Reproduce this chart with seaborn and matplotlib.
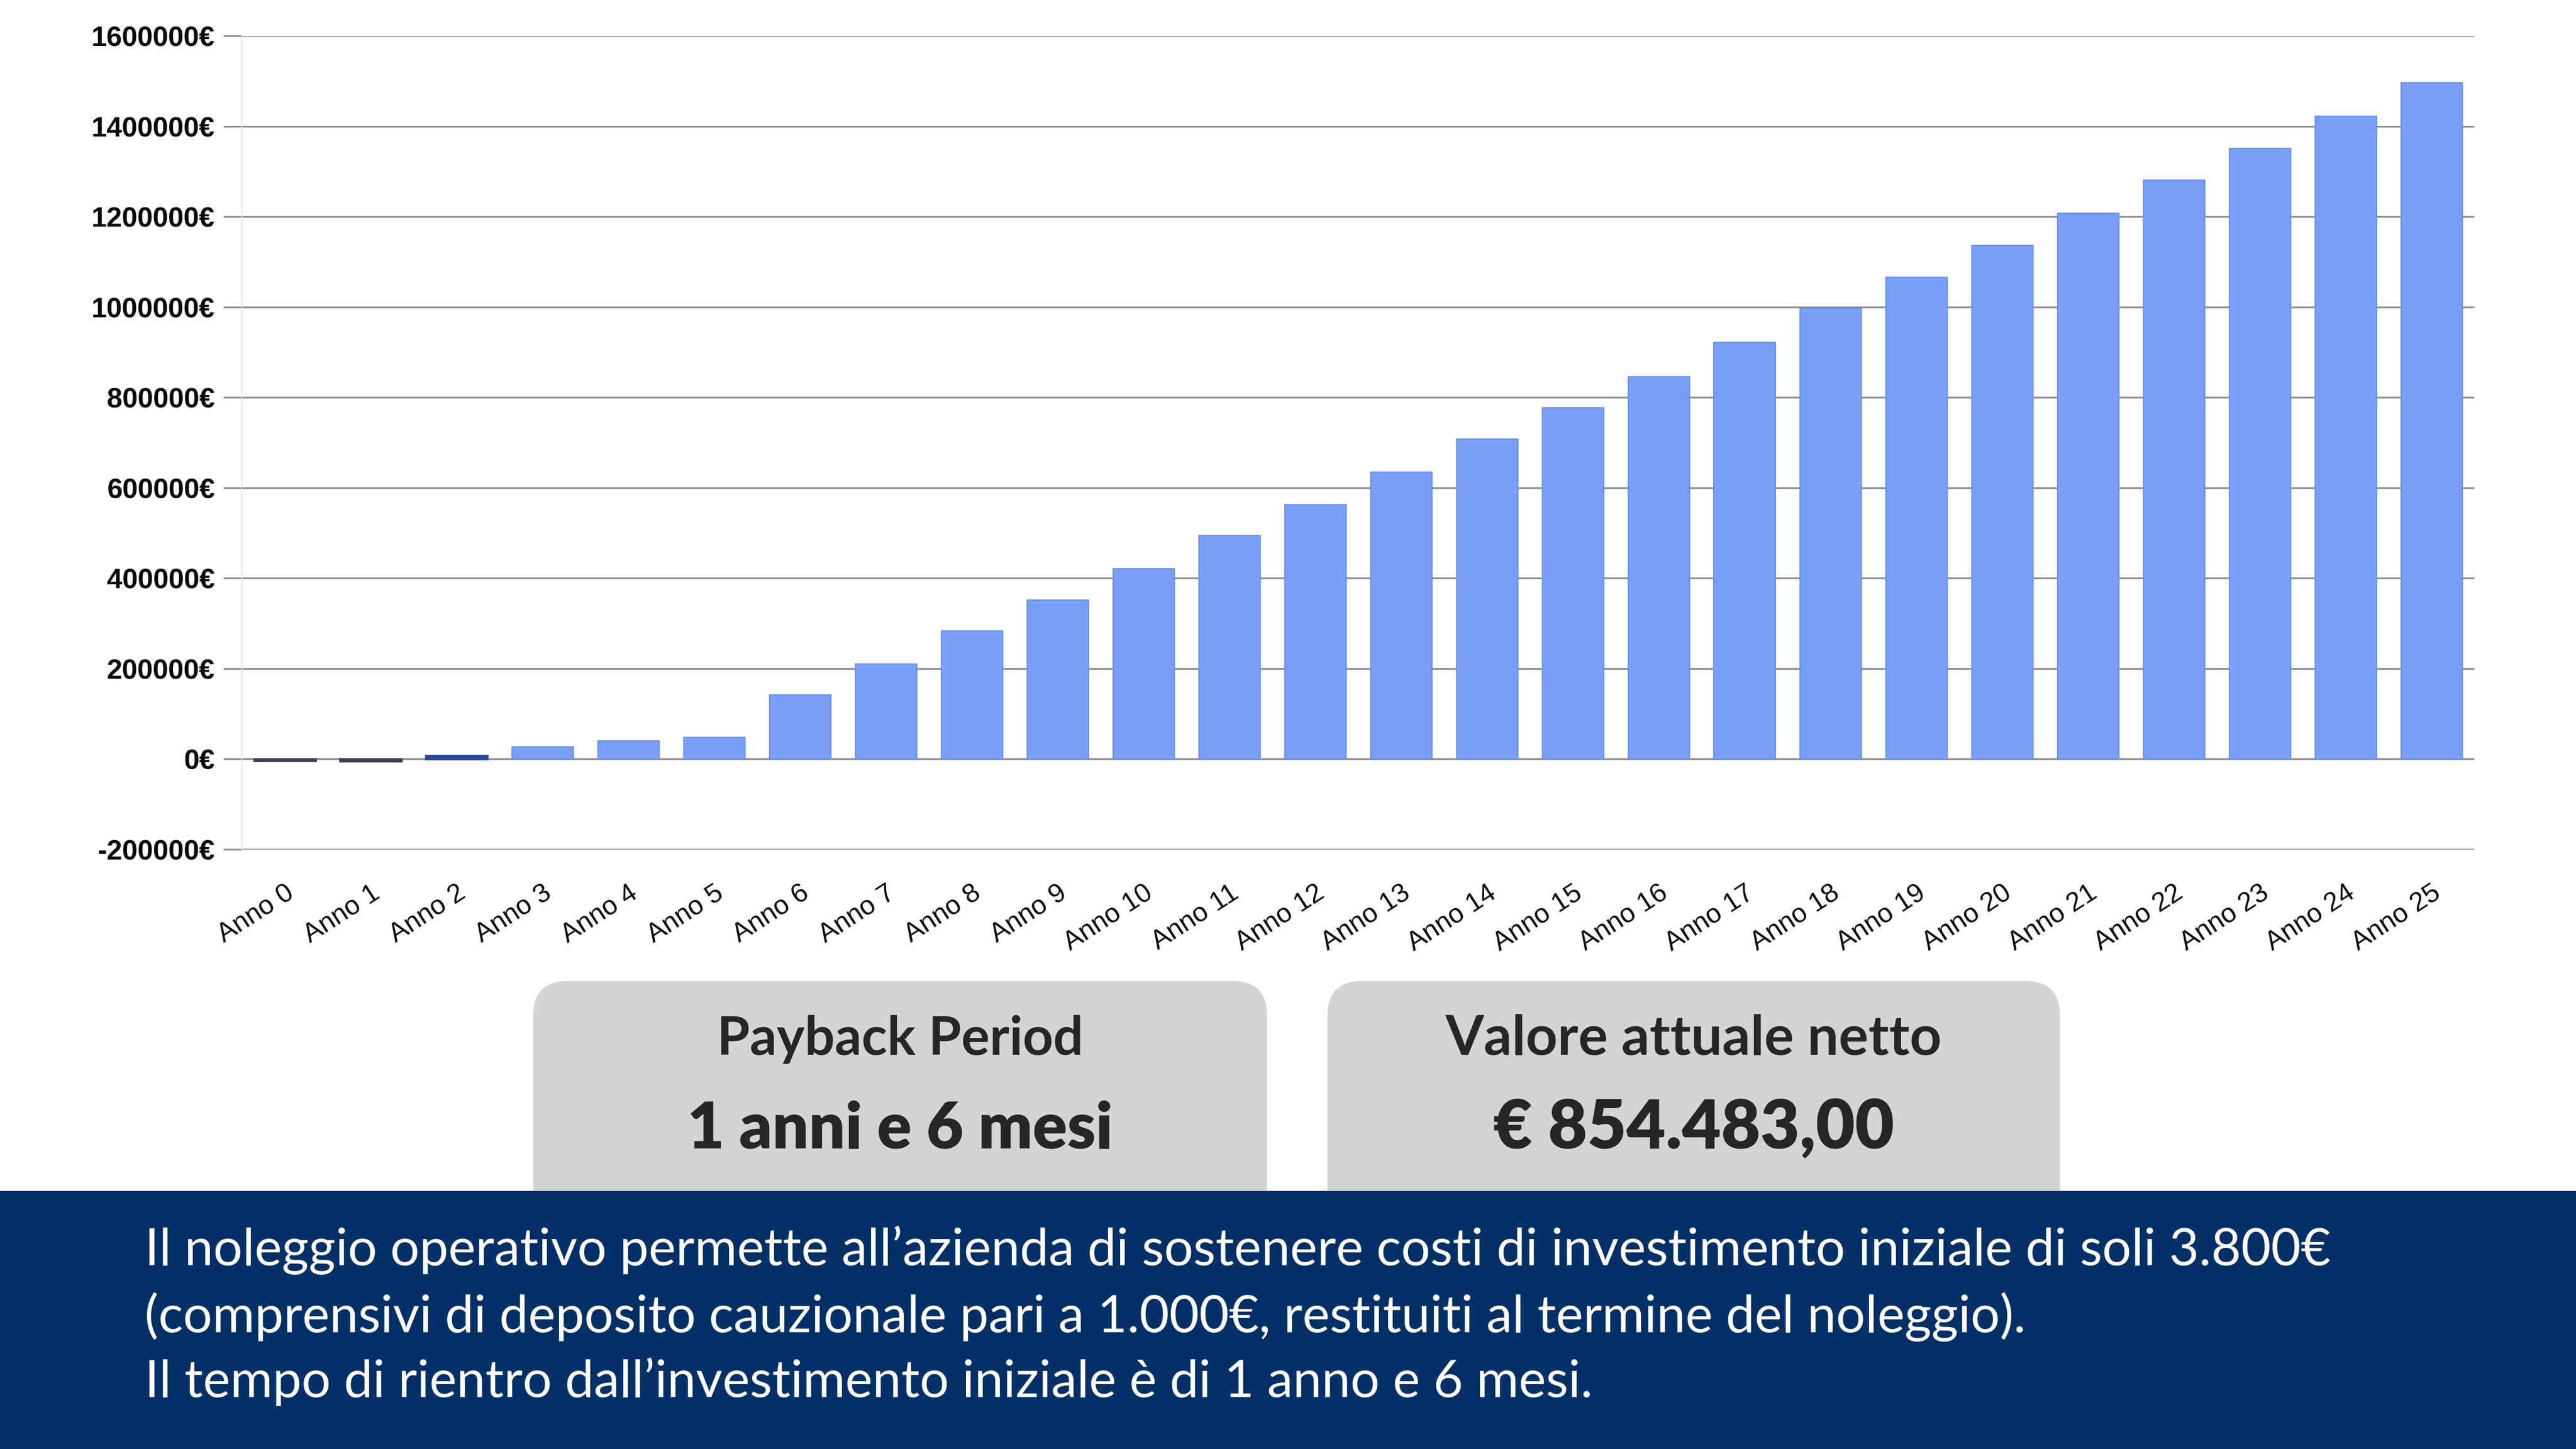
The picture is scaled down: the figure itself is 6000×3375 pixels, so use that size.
import matplotlib
matplotlib.use("Agg")
import matplotlib.pyplot as plt
from matplotlib.patches import FancyBboxPatch, Rectangle
from matplotlib.ticker import FixedLocator, FuncFormatter
import seaborn as sns
import pandas as pd

# ---------------- data ----------------
years = [f"Anno {i}" for i in range(26)]
cash_flow = [-3800, -4500, 8000, 27700, 41000, 49000, 143000, 211000, 284000,
             353000, 422000, 495000, 564000, 636000, 709000, 778000, 847000,
             923000, 998000, 1067000, 1137000, 1209000, 1282000, 1352000,
             1423000, 1497000]
y_ticks = [-200000, 0, 200000, 400000, 600000, 800000, 1000000, 1200000,
           1400000, 1600000]
card_titles = ["Payback Period", "Valore attuale netto"]
card_values = ["1 anni e 6 mesi", "€ 854.483,00"]
banner_lines = [
    "Il noleggio operativo permette all’azienda di sostenere costi di investimento iniziale di soli 3.800€",
    "(comprensivi di deposito cauzionale pari a 1.000€, restituiti al termine del noleggio).",
    "Il tempo di rientro dall’investimento iniziale è di 1 anno e 6 mesi.",
]

# ---------------- style ----------------
sns.set_theme(style="white")
plt.rcParams["font.family"] = ["Liberation Sans", "DejaVu Sans"]
plt.rcParams["axes.unicode_minus"] = False

W, H = 6000, 3375
fig = plt.figure(figsize=(20, 11.25), dpi=300)
fig.patch.set_facecolor("white")

ax = fig.add_axes([563 / W, 1 - 1979 / H, 5200 / W, (1979 - 84) / H])
df = pd.DataFrame({"year": years, "value": cash_flow})
sns.barplot(data=df, x="year", y="value", color="#7a9ff6", width=0.715,
            edgecolor="#678ce6", linewidth=0.6, saturation=1, ax=ax, zorder=3)
for p in ax.patches:
    h = p.get_height()
    if abs(h) < 10000:
        c = "#2d4896" if h > 0 else "#3c3c55"
        p.set_facecolor(c)
        p.set_edgecolor(c)
        p.set_linewidth(1.2)

ax.set_xlim(-0.5, 25.5)
ax.set_ylim(-200000, 1600000)
ax.yaxis.set_major_locator(FixedLocator(y_ticks))
ax.yaxis.set_major_formatter(FuncFormatter(lambda v, p: f"{int(v)}€"))
ax.set_axisbelow(True)
ax.grid(axis="y", color="#8e8e8e", linewidth=1.0, zorder=0)
ax.grid(axis="x", visible=False)
ax.set_xlabel("")
ax.set_ylabel("")
for s in ["top", "right", "bottom"]:
    ax.spines[s].set_visible(False)
ax.spines["left"].set_color("#e2e2e2")
ax.spines["left"].set_linewidth(0.6)
ax.tick_params(axis="y", length=10, width=1.0, color="#8e8e8e", pad=5,
               labelsize=15.5, labelcolor="#0a0a0a", left=True)
ax.tick_params(axis="x", length=0, pad=17, labelsize=15, labelcolor="#0a0a0a")
for lab in ax.get_yticklabels():
    lab.set_fontweight("semibold")
for lab in ax.get_xticklabels():
    lab.set_rotation(33)
    lab.set_ha("right")
    lab.set_va("top")
    lab.set_rotation_mode("anchor")

# ---------------- overlay (pixel coordinates) ----------------
ov = fig.add_axes([0, 0, 1, 1], facecolor="none")
ov.set_xlim(0, W)
ov.set_ylim(H, 0)
ov.axis("off")

cards_x = [(1242, 2951), (3092, 4798)]
for (x0, x1) in cards_x:
    ov.add_patch(FancyBboxPatch((x0, 2285), x1 - x0, 700,
                                boxstyle="round,pad=0,rounding_size=80",
                                facecolor="#d4d4d4", edgecolor="none", zorder=1))
ov.add_patch(Rectangle((0, 2774), W, H - 2774, facecolor="#033066",
                       edgecolor="none", zorder=2))

renderer = fig.canvas.get_renderer()

def fit(t, target_w):
    bb = t.get_window_extent(renderer)
    t.set_fontsize(t.get_fontsize() * target_w / bb.width)

title_w = [854, 1156]
value_w = [990, 934]
for i, (x0, x1) in enumerate(cards_x):
    cx = (x0 + x1) / 2
    t = ov.text(cx, 2457, card_titles[i], ha="center", va="baseline",
                fontsize=24, fontweight="bold", color="#262626",
                family=["Lato", "DejaVu Sans"], zorder=3)
    fit(t, title_w[i])
    v = ov.text(cx, 2675, card_values[i], ha="center", va="baseline",
                fontsize=36, fontweight="heavy", color="#262626",
                family=["Lato", "DejaVu Sans"], zorder=3)
    fit(v, value_w[i])

baselines = [2947, 3103, 3254]
texts = []
for line, yb in zip(banner_lines, baselines):
    texts.append(ov.text(337, yb, line, ha="left", va="baseline", fontsize=24,
                         color="white", fontweight="normal",
                         family=["Lato", "DejaVu Sans"], zorder=3))
bb = texts[0].get_window_extent(renderer)
size = texts[0].get_fontsize() * 5090 / bb.width
for t in texts:
    t.set_fontsize(size)

fig.savefig("out.png", dpi=300, facecolor="white")
